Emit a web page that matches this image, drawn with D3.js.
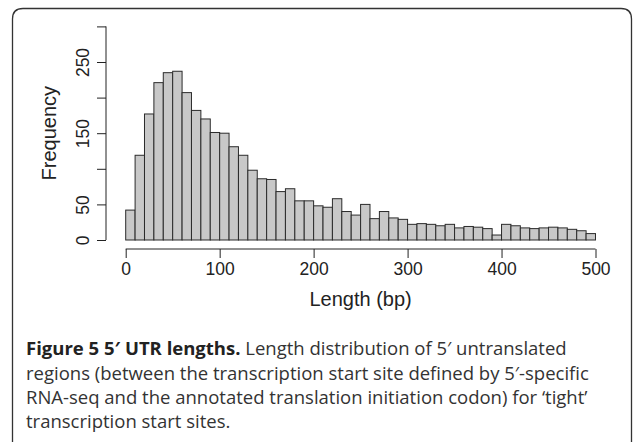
<!DOCTYPE html>
<html>
<head>
<meta charset="utf-8">
<script src="https://cdn.jsdelivr.net/npm/d3@7"></script>
<style>
  html, body { margin: 0; padding: 0; background: #fff; }
  svg { display: block; }
</style>
</head>
<body>
<svg id="chart" width="634" height="442"></svg>
<script>
// ---- data ----
const binStarts = d3.range(0, 500, 10);
const binWidth = 10;
const frequencies = [
  42, 119, 177, 221, 235, 237, 207, 182, 170, 151,
  150, 131, 119, 98, 86, 85, 68, 72, 55, 55,
  48, 46, 58, 40, 35, 50, 30, 40, 31, 29,
  22, 23, 22, 20, 22, 17, 19, 18, 16, 7,
  22, 20, 17, 16, 17, 18, 17, 15, 13, 9
];
const xTicks = [0, 100, 200, 300, 400, 500];
const yTicks = [0, 50, 100, 150, 200, 250, 300];
const yTickLabels = ["0", "50", "", "150", "", "250", ""];
const xLabel = "Length (bp)";
const yLabel = "Frequency";
const captionBold = "Figure 5 5\u2032 UTR lengths.";
const captionLines = [
  " Length distribution of 5\u2032 untranslated",
  "regions (between the transcription start site defined by 5\u2032-specific",
  "RNA-seq and the annotated translation initiation codon) for \u2018tight\u2019",
  "transcription start sites."
];

// ---- layout ----
const svg = d3.select("#chart");
const font = "'Liberation Sans', Arial, sans-serif";
const capFont = "'Open Sans', 'Noto Sans', sans-serif";

// frame
svg.append("path")
  .attr("d", "M12.5,460 L12.5,19 Q12.5,8.5 23,8.5 L621,8.5 Q631.5,8.5 631.5,19 L631.5,460")
  .attr("fill", "none").attr("stroke", "#333").attr("stroke-width", 1.3);

const x = d3.scaleLinear().domain([0, 500]).range([125.7, 595.5]);
const y = d3.scaleLinear().domain([0, 300]).range([240, 26.4]);

// bars
svg.append("g").selectAll("rect")
  .data(binStarts.map((s, i) => ({ s, v: frequencies[i] })))
  .join("rect")
  .attr("x", d => x(d.s))
  .attr("y", d => y(d.v))
  .attr("width", d => x(d.s + binWidth) - x(d.s))
  .attr("height", d => y(0) - y(d.v))
  .attr("fill", "#c8c8c8")
  .attr("stroke", "#2b2b2b")
  .attr("stroke-width", 1);

// x axis
const xAxis = d3.axisBottom(x).tickValues(xTicks).tickSize(9).tickPadding(5)
  .tickFormat(d3.format("d"));
const gx = svg.append("g").attr("transform", "translate(0,249)").call(xAxis);
gx.select(".domain").attr("d", `M${x(0)},0H${x(500)}`).attr("stroke", "#222");
gx.selectAll(".tick line").attr("stroke", "#222");
gx.selectAll(".tick text").attr("font-family", font).attr("font-size", 17.5).attr("fill", "#222");

// y axis
const yAxis = d3.axisLeft(y).tickValues(yTicks).tickSize(9)
  .tickFormat((d, i) => yTickLabels[i]);
const gy = svg.append("g").attr("transform", "translate(106,0)").call(yAxis);
gy.select(".domain").attr("d", `M0,${y(0)}V${y(300)}`).attr("stroke", "#222");
gy.selectAll(".tick line").attr("stroke", "#222");
gy.selectAll(".tick text")
  .attr("font-family", font).attr("font-size", 17.5).attr("fill", "#222")
  .attr("text-anchor", "middle")
  .attr("x", 0).attr("y", 0).attr("dy", "0.36em")
  .attr("transform", "translate(-23,0) rotate(-90)");

// axis labels
svg.append("text")
  .attr("x", (x(0) + x(500)) / 2).attr("y", 306)
  .attr("text-anchor", "middle")
  .attr("font-family", font).attr("font-size", 20).attr("fill", "#222")
  .text(xLabel);
svg.append("text")
  .attr("transform", `translate(55.5,${(y(0) + y(300)) / 2}) rotate(-90)`)
  .attr("text-anchor", "middle")
  .attr("font-family", font).attr("font-size", 20).attr("fill", "#222")
  .text(yLabel);

// caption
const capY = [355, 380, 404, 428];
const cap = svg.append("g").attr("font-family", capFont).attr("font-size", 18.5).attr("fill", "#333");
const t0 = cap.append("text").attr("x", 26).attr("y", capY[0]);
t0.append("tspan").attr("font-weight", "bold").attr("fill", "#222").text(captionBold);
t0.append("tspan").text(captionLines[0]);
captionLines.slice(1).forEach((l, i) => {
  cap.append("text").attr("x", 26).attr("y", capY[i + 1]).text(l);
});
</script>
</body>
</html>
